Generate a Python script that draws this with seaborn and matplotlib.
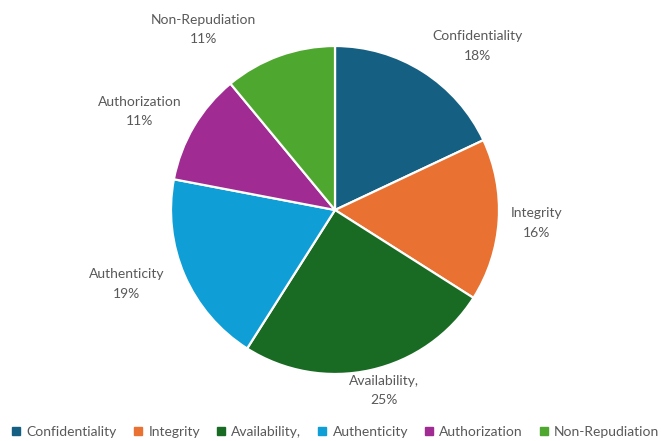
import matplotlib
matplotlib.use("Agg")
import matplotlib.pyplot as plt
import seaborn as sns
import numpy as np

categories = ["Confidentiality", "Integrity", "Availability,", "Authenticity",
              "Authorization", "Non-Repudiation"]
shares = [18, 16, 25, 19, 11, 11]
colors = ["#156082", "#E97132", "#196B24", "#0F9ED5", "#A02B93", "#4EA72E"]

# label centres, as offsets from the pie centre in units of the radius
label_offsets = [(0.87, 1.00), (1.23, -0.08), (0.30, -1.10),
                 (-1.27, -0.45), (-1.19, 0.60), (-0.80, 1.10)]

sns.set_theme(style="white")
plt.rcParams["font.family"] = ["Lato", "DejaVu Sans"]
text_color = "#595959"

W, H = 661, 441
fig = plt.figure(figsize=(W / 100, H / 100), dpi=100)
ax = fig.add_axes([0, 0, 1, 1])

R = 164.0
cx, cy = 335.0, 210.0

wedges, _ = ax.pie(shares, colors=colors, startangle=90, counterclock=False,
                   radius=1.0, center=(0, 0),
                   wedgeprops=dict(edgecolor="white", linewidth=1.6))
ax.set_xlim(-cx / R, (W - cx) / R)
ax.set_ylim(-(H - cy) / R, cy / R)
ax.set_aspect("equal", adjustable="box")
ax.axis("off")

for name, val, (dx, dy) in zip(categories, shares, label_offsets):
    ax.text(dx, dy, f"{name}\n{val}%", ha="center", va="center",
            fontsize=10, color=text_color, linespacing=1.75)

handles = [plt.Line2D([0], [0], marker="s", linestyle="none", markersize=6,
                      markerfacecolor=c, markeredgecolor=c) for c in colors]
fig.legend(handles, categories, loc="center", bbox_to_anchor=(0.508, 0.02),
           ncol=6, frameon=False, fontsize=10, labelcolor=text_color,
           handlelength=0.6, handletextpad=0.45, columnspacing=1.2,
           borderpad=0.2, borderaxespad=0.0)

fig.savefig("out.png", dpi=100, facecolor="white")
